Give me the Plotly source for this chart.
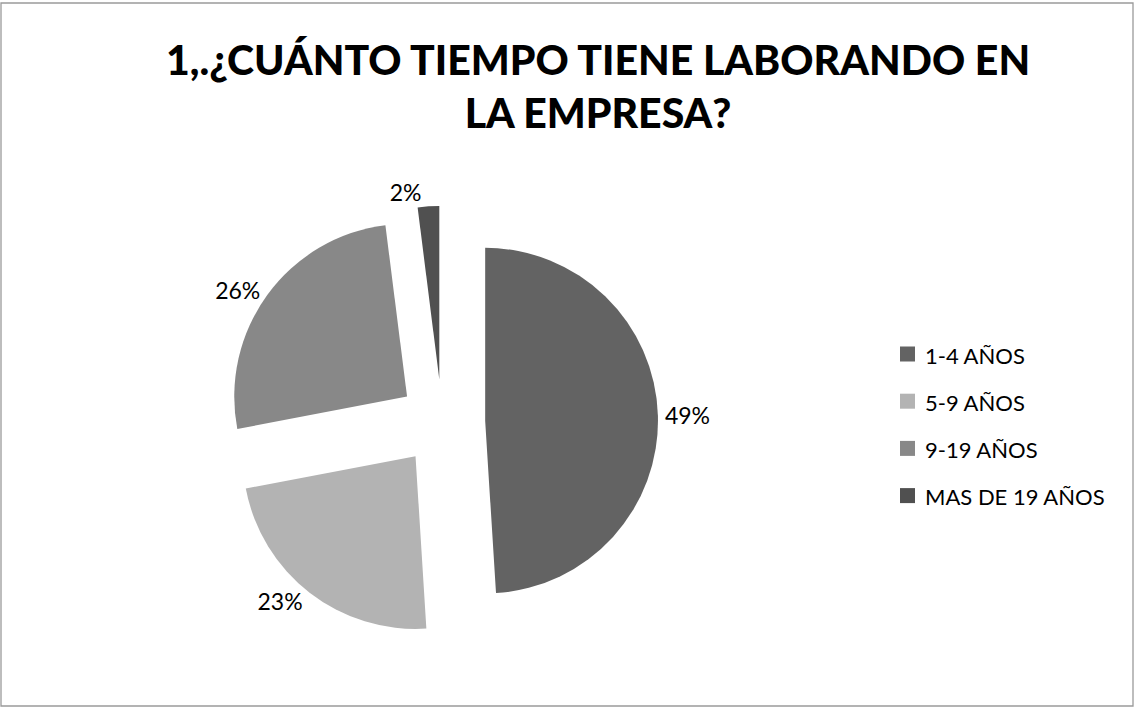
import plotly.graph_objects as go

W, H = 1134, 707

# --- data ---
categories = ["1-4 AÑOS", "5-9 AÑOS", "9-19 AÑOS", "MAS DE 19 AÑOS"]
shares = [49, 23, 26, 2]
slice_colors = ["#636363", "#b3b3b3", "#888888", "#505050"]
title_text = "1,.¿CUÁNTO TIEMPO TIENE LABORANDO EN<br>LA EMPRESA?"

FONT = "Lato"


def px_x(x):
    return x / W


def px_y(y):
    return 1 - y / H


# pie placement (pixels); plotly shrinks the pie a little to keep the
# outside labels inside the domain, so the box is drawn slightly larger
cx, cy = 442, 422
pull = 0.25
half = 216

fig = go.Figure(
    go.Pie(
        labels=categories,
        values=shares,
        sort=False,
        direction="clockwise",
        rotation=0,
        pull=[pull] * len(shares),
        marker=dict(colors=slice_colors, line=dict(width=0)),
        textposition="outside",
        texttemplate="%{percent:.0%}",
        textfont=dict(family=FONT, size=23, color="#000000"),
        hoverinfo="label+percent",
        showlegend=False,
        automargin=False,
        domain=dict(
            x=[px_x(cx - half), px_x(cx + half)],
            y=[px_y(cy + half), px_y(cy - half)],
        ),
    )
)

shapes = [
    # chart frame
    dict(
        type="rect", xref="paper", yref="paper",
        x0=px_x(1), x1=px_x(1133), y0=px_y(706), y1=px_y(3),
        line=dict(color="#9a9a9a", width=1.3), fillcolor="rgba(0,0,0,0)",
    )
]

annotations = [
    dict(
        text=title_text, xref="paper", yref="paper",
        x=px_x(598), y=px_y(33), xanchor="center", yanchor="top",
        showarrow=False, align="center",
        font=dict(family=FONT, size=41, color="#000000", weight=900),
    )
]

# legend: colour swatch + label per category
leg_x, leg_y0, leg_step, sw = 900, 354, 47.2, 15
for i, (name, col) in enumerate(zip(categories, slice_colors)):
    yc = leg_y0 + i * leg_step
    shapes.append(dict(
        type="rect", xref="paper", yref="paper",
        x0=px_x(leg_x), x1=px_x(leg_x + sw),
        y0=px_y(yc + sw / 2), y1=px_y(yc - sw / 2),
        line=dict(width=0), fillcolor=col,
    ))
    annotations.append(dict(
        text=name, xref="paper", yref="paper",
        x=px_x(leg_x + sw + 8), y=px_y(yc + 1),
        xanchor="left", yanchor="middle", showarrow=False,
        font=dict(family=FONT, size=22, color="#000000"),
    ))

fig.update_layout(
    width=W, height=H,
    margin=dict(l=0, r=0, t=0, b=0, autoexpand=False),
    paper_bgcolor="#ffffff",
    plot_bgcolor="#ffffff",
    showlegend=False,
    shapes=shapes,
    annotations=annotations,
)

fig.write_html("out.html")
